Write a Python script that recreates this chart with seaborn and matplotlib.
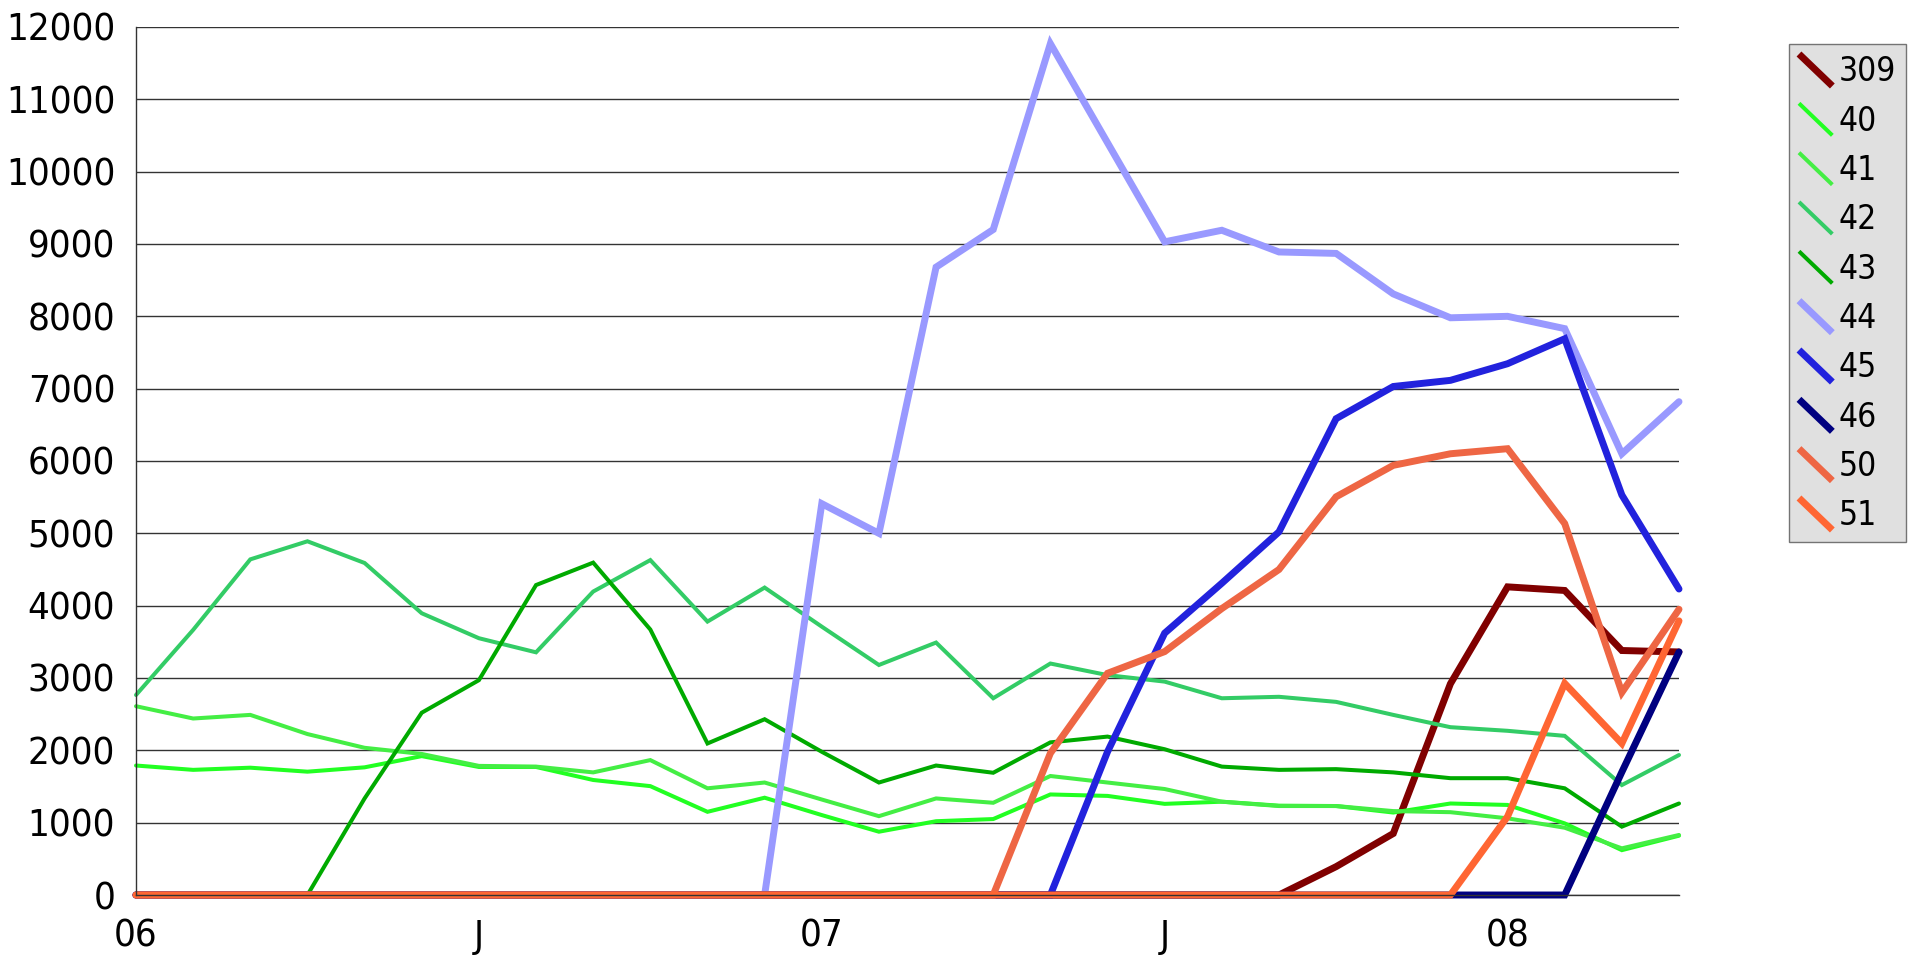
import pandas as pd
import matplotlib
matplotlib.use("Agg")
import matplotlib.pyplot as plt
from matplotlib.lines import Line2D
from matplotlib.legend_handler import HandlerBase
import seaborn as sns

# monthly points, Jan 2006 .. Apr 2008
months = list(range(28))
tick_pos = [0, 6, 12, 18, 24]
tick_text = ["06", "J", "07", "J", "08"]

s309 = [0, 0, 0, 0, 0, 0, 0, 0, 0, 0, 0, 0, 0, 0, 0, 0, 0, 0, 0, 0, 0,
        392, 850, 2920, 4260, 4210, 3380, 3360]
s40 = [1790, 1730, 1760, 1705, 1765, 1920, 1770, 1770, 1590, 1505, 1150, 1345, 1105, 875,
       1020, 1050, 1390, 1370, 1260, 1290, 1235, 1230, 1140, 1265, 1245, 990, 620, 820]
s41 = [2610, 2440, 2490, 2225, 2035, 1950, 1785, 1775, 1695, 1865, 1475, 1555, 1320, 1090,
       1335, 1275, 1645, 1555, 1465, 1290, 1230, 1230, 1160, 1145, 1060, 930, 645, 830]
s42 = [2765, 3665, 4640, 4890, 4590, 3895, 3550, 3355, 4195, 4630, 3780, 4250, 3710, 3180,
       3490, 2720, 3200, 3040, 2950, 2720, 2740, 2670, 2490, 2320, 2270, 2200, 1520, 1935]
s43 = [0, 0, 0, 0, 1335, 2520, 2970, 4285, 4595, 3670, 2095, 2430, 1980, 1555,
       1790, 1690, 2110, 2190, 2015, 1775, 1730, 1740, 1695, 1615, 1615, 1475, 945, 1265]
s44 = [0, 0, 0, 0, 0, 0, 0, 0, 0, 0, 0, 0, 5410, 5000,
       8680, 9200, 11770, 10400, 9030, 9190, 8890, 8870, 8310, 7980, 8000, 7830, 6100, 6820]
s45 = [0, 0, 0, 0, 0, 0, 0, 0, 0, 0, 0, 0, 0, 0, 0, 0, 0,
       1980, 3620, 4310, 5020, 6585, 7030, 7115, 7345, 7690, 5530, 4230]
s46 = [0, 0, 0, 0, 0, 0, 0, 0, 0, 0, 0, 0, 0, 0, 0, 0, 0, 0, 0, 0, 0, 0, 0, 0, 0, 0,
       1700, 3360]
s50 = [0, 0, 0, 0, 0, 0, 0, 0, 0, 0, 0, 0, 0, 0, 0, 0,
       1960, 3065, 3365, 3960, 4500, 5505, 5940, 6100, 6170, 5135, 2800, 3950]
s51 = [0, 0, 0, 0, 0, 0, 0, 0, 0, 0, 0, 0, 0, 0, 0, 0, 0, 0, 0, 0, 0, 0, 0, 0,
       1085, 2925, 2095, 3790]

series = {"309": s309, "40": s40, "41": s41, "42": s42, "43": s43,
          "44": s44, "45": s45, "46": s46, "50": s50, "51": s51}
colors = {"309": "#800000", "40": "#22ff22", "41": "#44ee44", "42": "#33cc66",
          "43": "#00aa00", "44": "#9999ff", "45": "#2222dd", "46": "#000080",
          "50": "#ee6644", "51": "#ff6633"}
widths = {"309": 5.0, "40": 2.9, "41": 2.9, "42": 2.9, "43": 2.9,
          "44": 5.0, "45": 5.0, "46": 5.0, "50": 5.0, "51": 5.0}

rows = []
for name, vals in series.items():
    for m, v in zip(months, vals):
        rows.append({"Series": name, "Month": m, "Value": v})
df = pd.DataFrame(rows)


class DiagHandler(HandlerBase):
    # legend key drawn as a short diagonal stroke
    def create_artists(self, legend, orig_handle, xdescent, ydescent,
                       width, height, fontsize, trans):
        ln = Line2D([-xdescent, -xdescent + width],
                    [-ydescent + height, -ydescent],
                    color=orig_handle.get_color(),
                    linewidth=orig_handle.get_linewidth(),
                    solid_capstyle="butt", transform=trans)
        return [ln]


sns.set_style("white")
plt.rcParams["font.family"] = ["DejaVu Sans"]
plt.rcParams["font.stretch"] = "condensed"
plt.rcParams["text.color"] = "black"
plt.rcParams["xtick.color"] = "black"
plt.rcParams["ytick.color"] = "black"

fig = plt.figure(figsize=(19.14, 9.57), dpi=100)
ax = fig.add_axes([136 / 1914, 1 - 895 / 957, (1679 - 136) / 1914, (895 - 27) / 957])

for name in series:
    sns.lineplot(data=df[df["Series"] == name], x="Month", y="Value",
                 color=colors[name], linewidth=widths[name], ax=ax,
                 solid_joinstyle="miter", clip_on=False, label=name)

ax.set_xlim(0, 27)
ax.set_ylim(0, 12000)
ax.set_yticks(range(0, 12001, 1000))
ax.set_xticks(months)
ax.set_xticklabels([tick_text[tick_pos.index(m)] if m in tick_pos else "" for m in months])
ax.set_xlabel("")
ax.set_ylabel("")
ax.grid(axis="y", color="#333333", linewidth=1.0)
ax.grid(axis="x", visible=False)
ax.set_axisbelow(True)
for side in ["top", "right"]:
    ax.spines[side].set_visible(False)
for side in ["left", "bottom"]:
    ax.spines[side].set_color("#333333")
    ax.spines[side].set_linewidth(1.0)
ax.tick_params(axis="both", direction="out", length=9, width=1.0, color="#333333",
               labelcolor="black", labelsize=27.5, pad=6)
ax.tick_params(axis="x", pad=8)

ax.get_legend().remove()
handles = [Line2D([], [], color=colors[n], linewidth=widths[n]) for n in series]
leg = fig.legend(handles, list(series.keys()), handler_map={Line2D: DiagHandler()},
                 loc="upper left", bbox_to_anchor=(1789 / 1914, 1 - 44 / 957),
                 frameon=True, fancybox=False, facecolor="#d9d9d9", edgecolor="#555555",
                 fontsize=24, handlelength=1.0, handleheight=1.1, handletextpad=0.2,
                 labelspacing=0.45, borderpad=0.3, borderaxespad=0)
leg.get_frame().set_linewidth(1.0)
for t in leg.get_texts():
    t.set_color("black")

fig.savefig("out.png", dpi=100)
